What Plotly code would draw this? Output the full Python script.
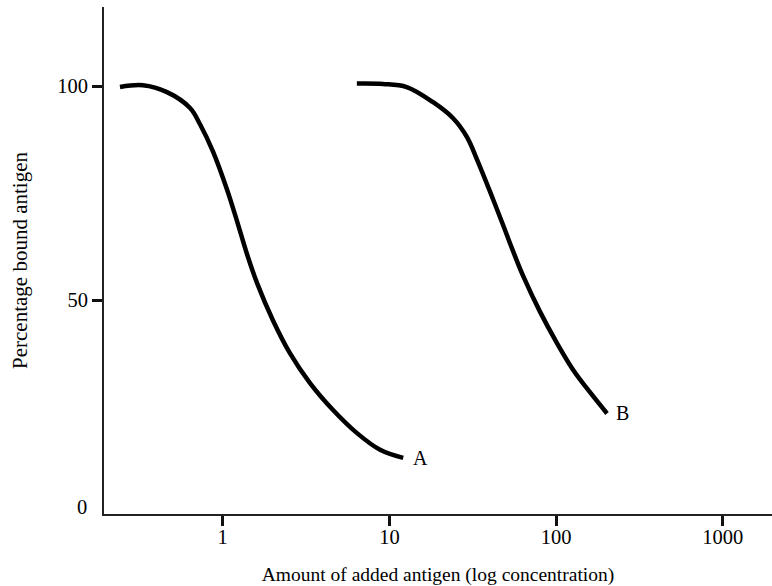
import math
import plotly.graph_objects as go

# Curve A (amount of added antigen, percentage bound)
a_x = [0.242, 0.332, 0.463, 0.637, 0.731, 0.875, 1.06, 1.22, 1.40, 1.61, 2.00, 2.53, 3.34, 4.59, 6.39, 8.79, 12.1]
a_y = [99.8, 100.2, 98.6, 94.9, 91.1, 84.7, 75.9, 68.4, 60.7, 53.9, 45.3, 37.6, 30.6, 24.3, 18.9, 15.0, 13.1]

# Curve B
b_x = [6.38, 9.15, 12.7, 18.2, 24.1, 29.2, 33.5, 40.1, 48.0, 55.1, 63.3, 80.0, 101, 126, 160, 202]
b_y = [100.6, 100.5, 99.8, 96.3, 92.5, 88.1, 82.9, 75.4, 67.6, 61.5, 55.7, 47.3, 40.0, 33.8, 28.4, 23.5]

curve_labels = ["A", "B"]
label_x = [13.9, 229]
label_y = [13.1, 23.6]

x_tickvals = [1, 10, 100, 1000]
x_ticktext = ["1", "10", "100", "1000"]
y_tickvals = [50, 100]
y_ticktext = ["50", "100"]

FONT = "Liberation Serif, Times New Roman, serif"

fig = go.Figure()
fig.add_trace(go.Scatter(x=a_x, y=a_y, mode="lines",
                         line=dict(color="black", width=4.5, shape="spline", smoothing=1.0),
                         hoverinfo="skip", showlegend=False))
fig.add_trace(go.Scatter(x=b_x, y=b_y, mode="lines",
                         line=dict(color="black", width=4.5, shape="spline", smoothing=1.0),
                         hoverinfo="skip", showlegend=False))

for t, lx, ly in zip(curve_labels, label_x, label_y):
    fig.add_annotation(x=math.log10(lx), y=ly, xref="x", yref="y", text=t, showarrow=False,
                       xanchor="left", yanchor="middle", xshift=-2,
                       font=dict(family=FONT, size=20, color="black"))

# "0" label on the y axis (no tick mark)
fig.add_annotation(x=0, y=0, xref="paper", yref="y", text="0", showarrow=False,
                   xanchor="right", yanchor="middle", xshift=-15, yshift=7,
                   font=dict(family=FONT, size=20.5, color="black"))

fig.update_layout(
    width=772, height=586,
    margin=dict(l=104, r=0, t=7, b=72),
    paper_bgcolor="white", plot_bgcolor="white",
    font=dict(family=FONT, size=20, color="black"),
    xaxis=dict(type="log", range=[-0.712, 3.295],
               tickvals=x_tickvals, ticktext=x_ticktext,
               ticks="outside", ticklen=10, tickwidth=2.5, tickcolor="#111",
               ticklabelstandoff=-7,
               showline=True, linecolor="#222", linewidth=2,
               showgrid=False, zeroline=False, mirror=False,
               tickfont=dict(family=FONT, size=20.5),
               title=dict(text="Amount of added antigen (log concentration)",
                          font=dict(family=FONT, size=19.5), standoff=21)),
    yaxis=dict(range=[0, 118.5],
               tickvals=y_tickvals, ticktext=y_ticktext,
               ticks="outside", ticklen=10, tickwidth=2.5, tickcolor="#111",
               showline=True, linecolor="#222", linewidth=2,
               showgrid=False, zeroline=False,
               tickfont=dict(family=FONT, size=20.5),
               title=dict(text="Percentage bound antigen",
                          font=dict(family=FONT, size=21), standoff=24)),
)

fig.write_html("out.html",
               config={"displayModeBar": False},
               post_script="document.body.style.margin='0';document.body.style.overflow='hidden';")
